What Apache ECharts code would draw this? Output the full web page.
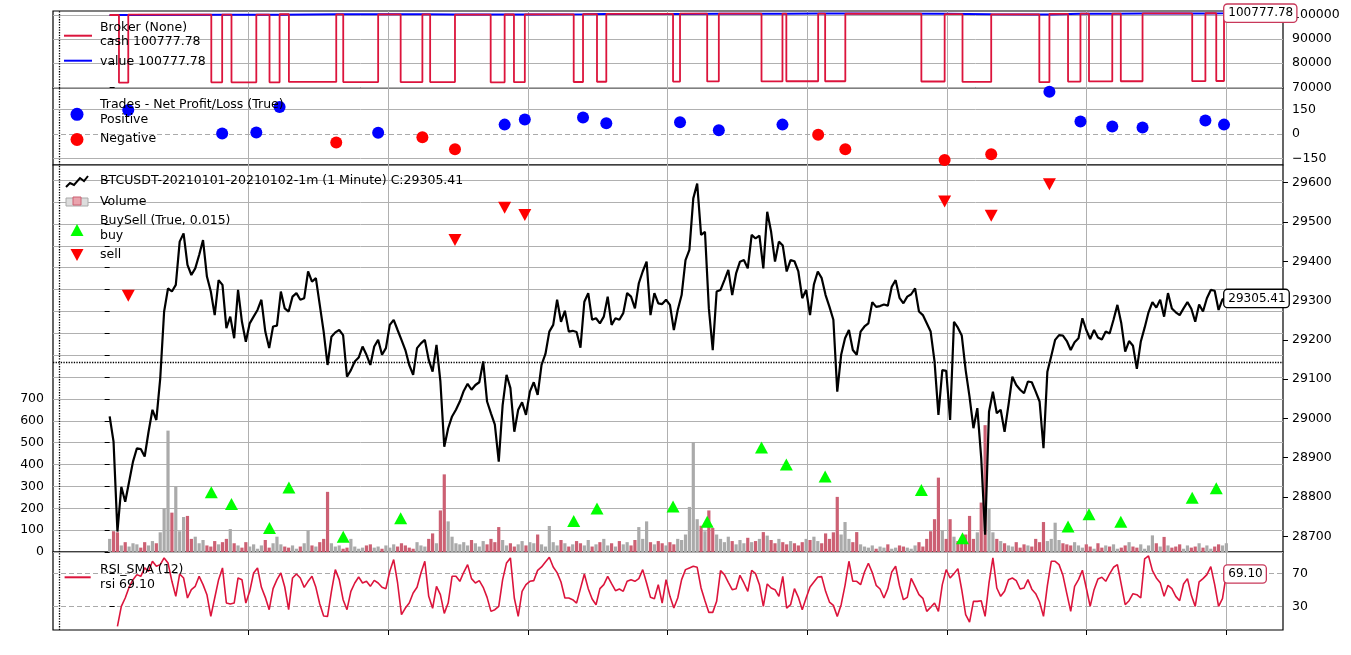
<!DOCTYPE html>
<html>
<head>
<meta charset="utf-8">
<title>BTCUSDT backtest</title>
<script src="https://cdn.jsdelivr.net/npm/echarts@6/dist/echarts.min.js"></script>
<style>
  html, body { margin: 0; padding: 0; background: #fff; }
  #chart { width: 1351px; height: 655px; }
</style>
</head>
<body>
<div id="chart"></div>
<script>
// backtrader style plot: broker / trades / price + volume / rsi

// close, read every ~5 one-minute bars
const close = [
  29005, 28941, 28712, 28826, 28788, 28839, 28890, 28924, 28922, 28903,
  28966, 29022, 28996, 29102, 29272, 29331, 29323, 29340, 29450, 29471,
  29391, 29365, 29382, 29416, 29454, 29361, 29323, 29263, 29352, 29340,
  29230, 29259, 29204, 29327, 29246, 29195, 29242, 29259, 29276, 29302,
  29221, 29179, 29234, 29236, 29323, 29280, 29272, 29310, 29319, 29302,
  29306, 29374, 29348, 29357, 29289, 29221, 29136, 29208, 29219, 29225,
  29212, 29106, 29123, 29145, 29155, 29183, 29162, 29136, 29183, 29200,
  29162, 29179, 29238, 29251, 29225, 29200, 29174, 29136, 29111, 29179,
  29191, 29200, 29149, 29119, 29187, 29094, 28928, 28975, 29005, 29022,
  29043, 29070, 29088, 29073, 29085, 29092, 29145, 29043, 29013, 28984,
  28890, 29034, 29111, 29077, 28966, 29022, 29041, 29009, 29068, 29092,
  29060, 29136, 29164, 29221, 29238, 29302, 29246, 29274, 29221, 29223,
  29220, 29180, 29297, 29319, 29251, 29255, 29242, 29259, 29310, 29238,
  29255, 29251, 29268, 29319, 29310, 29280, 29344, 29374, 29399, 29263,
  29319, 29293, 29291, 29302, 29289, 29225, 29276, 29314, 29403, 29429,
  29560, 29598, 29467, 29475, 29280, 29174, 29323, 29327, 29352, 29378,
  29314, 29369, 29399, 29403, 29382, 29467, 29458, 29465, 29382, 29526,
  29475, 29399, 29450, 29440, 29374, 29403, 29400, 29374, 29306, 29327,
  29263, 29341, 29374, 29357, 29314, 29284, 29251, 29068, 29162, 29204,
  29225, 29174, 29162, 29221, 29234, 29242, 29296, 29284, 29286, 29290,
  29287, 29335, 29352, 29307, 29293, 29310, 29316, 29331, 29272, 29263,
  29242, 29221, 29145, 29009, 29123, 29121, 28996, 29246, 29231, 29211,
  29123, 29055, 28975, 29026, 28899, 28704, 29017, 29068, 29013, 29022,
  28966, 29034, 29106, 29085, 29073, 29064, 29094, 29092, 29068, 29043,
  28924, 29119, 29159, 29200, 29212, 29211, 29197, 29174, 29194, 29204,
  29255, 29225, 29202, 29225, 29206, 29201, 29221, 29216, 29251, 29289,
  29242, 29170, 29197, 29185, 29126, 29195, 29231, 29270, 29296, 29282,
  29302, 29259, 29319, 29280, 29270, 29263, 29280, 29296, 29279, 29246,
  29290, 29272, 29306, 29327, 29325, 29276, 29303, 29305.41
];

const volume = [
  60, 95, 90,
  30, 45, 25, 40, 35, 20, 45, 30, 50, 40,
  90, 200, 555, 180, 300, 95, 160, 165, 60,
  70, 40, 55, 30, 25, 50, 35, 45, 60, 105, 40, 30, 20, 45, 25, 35, 15, 30,
  55, 20, 40, 70, 35, 25, 20, 30, 15, 25, 40, 100, 30, 25, 45, 60, 275, 40,
  25, 30, 15, 20, 60, 25, 15, 20, 30, 35, 20, 25, 15, 30, 20, 35, 25, 40,
  30, 20, 15, 45, 30, 25, 60, 85, 40,
  190, 355, 140, 70, 40,
  35, 45, 30, 55, 40, 25, 50, 35, 60, 45, 114, 55, 30, 40, 25, 35, 50, 30,
  45, 40, 80, 35, 25, 119, 45, 30, 55, 40, 25, 35, 50,
  40, 30, 55, 25, 35, 45, 60, 30, 40, 25, 50, 35, 45, 30, 55, 114, 60, 140,
  45, 35, 50, 40, 30, 45, 35, 60, 55, 80,
  206, 503, 150, 120, 95, 190, 110, 80,
  60, 45, 70, 50, 35, 55, 40, 65, 45, 50, 60, 91, 75, 55, 40, 60, 45, 35,
  50, 40, 30, 45, 60, 55, 70, 50, 40, 85, 60, 90,
  252, 80, 137, 60,
  45, 91, 35, 25, 20, 30, 15, 25, 20, 35, 15, 20, 30, 25, 20, 15, 30, 45,
  25, 60, 95,
  150, 340, 100, 60, 150, 70, 50, 45, 80, 165, 60, 90, 226, 580, 200, 90, 60, 50,
  40, 30, 25, 45, 20, 35, 30, 25, 60, 45, 137, 50, 60, 134, 55, 40, 35, 30, 45,
  30, 20, 35, 25, 15, 40, 20, 30, 25, 35, 15, 20, 30, 45, 25, 20, 35, 15,
  30, 76, 40, 25, 69, 30, 20, 25, 35, 15, 30, 20, 25, 40, 20, 30, 15, 25,
  35, 30, 40
];

const rsi = [
  null, null, 6.4, 30.4, 40.4, 53.2, 62.4, 68.4, 66.4, 76.4,
  72.4, 84.4, 78.4, 80.4, 88.4, 82.4, 60.4, 42.4, 69.2, 64.4,
  40.4, 50.4, 54.4, 66.4, 56.4, 44.4, 18.4, 40.4, 62.4, 76.4,
  34.4, 33.2, 34.4, 64.4, 62.4, 34.4, 48.4, 70.4, 76.4, 53.2,
  41.2, 26.4, 51.6, 62.4, 70.4, 53.6, 26.4, 64.4, 69.2, 64.4,
  53.2, 60.4, 66.4, 53.2, 33.2, 18.8, 18.4, 48.4, 74.4, 62.4,
  38.4, 26.4, 48.4, 58.4, 65.6, 58.4, 60.4, 54.4, 61.6, 58.4,
  53.2, 51.6, 72.4, 86.4, 58.4, 20.4, 28.4, 34.4, 46.4, 53.2,
  70.4, 84.4, 42.4, 28, 54.4, 44.4, 22, 34.4, 66.4, 66.4,
  60.4, 71.2, 80.4, 63.6, 58.4, 61.2, 53.2, 41.2, 24.4, 26.4,
  30.4, 62.4, 82.4, 88.4, 40.4, 18.4, 48.4, 56.4, 60.4, 61.2,
  73.6, 77.6, 83.6, 89.2, 77.6, 70.8, 59.6, 40.4, 40.4, 38.4,
  34.4, 51.6, 69.2, 51.6, 39.2, 32.4, 51.6, 56.4, 66.4, 57.6,
  49.2, 51.2, 48.4, 60.4, 62.4, 60.4, 63.6, 74.4, 58.4, 41.2,
  39.6, 56.4, 34.4, 62.4, 42.4, 28.4, 40.4, 62.4, 74.4, 76.4,
  78.4, 77.2, 52.4, 37.2, 23.2, 23.2, 36.4, 73.2, 68.4, 59.2,
  50.4, 51.6, 67.6, 58.4, 48.4, 73.6, 69.6, 56.4, 30.4, 57.2,
  52.4, 50.4, 42.4, 66.4, 28.4, 32.4, 51.6, 41.2, 26.4, 40.4,
  53.6, 59.6, 65.6, 66, 48.4, 35.6, 31.6, 18.4, 32.4, 55.6,
  84.4, 60.4, 60.4, 56.4, 71.6, 82, 70.8, 55.6, 51.2, 40.4,
  51.6, 71.6, 78.4, 55.2, 38.4, 41.2, 64, 54.4, 44.4, 40,
  24.4, 29.2, 34.4, 24.4, 56.4, 74.4, 64.4, 69.6, 75.6, 50,
  20.4, 11.6, 36.4, 36.4, 37.2, 18.4, 58.4, 88.4, 52.4, 42.4,
  48.4, 62.4, 64.4, 61.2, 51.2, 52.4, 62.4, 51, 45.6, 35.6,
  18.4, 55.2, 84.4, 84.4, 80.4, 67.6, 45.6, 24.4, 54.4, 62.4,
  73.6, 52.4, 30.4, 50.4, 63.2, 65.2, 60.4, 69.2, 77.2, 80.4,
  56.4, 32.4, 37.2, 45.6, 44.4, 40.4, 87.2, 90.8, 73.2, 64.4,
  58.8, 42.4, 55.6, 51.6, 42.4, 37.2, 57.2, 63.6, 43.6, 30.4,
  59.6, 63.6, 68.4, 78, 56.4, 30.4, 39.6, 69.1
];

// trades: bar of the buy, bar of the sell, net profit/loss
const tradeOpen  = [12, 131, 157, 206, 231, 301, 375, 413, 491, 521, 598, 628, 726,
                    770, 840, 872, 922, 1046, 1099, 1198, 1235, 1262, 1303, 1395, 1426];
const tradeClose = [24, 145, 189, 219, 292, 346, 403, 445, 509, 535, 610, 640, 735,
                    785, 867, 913, 948, 1076, 1136, 1211, 1251, 1292, 1331, 1412, 1436];
const tradePnl   = [145, 2, 8, 164, -54, 6, -21, -94, 56, 87, 100, 64, 71,
                    21, 56, -6, -94, -161, -125, 257.78, 75, 44, 39, 81, 56];
// buy / sell markers inside the price panel (null: outside of it)
const buyMark  = [null, 28812, 28782, 28721, 28824, 28699, 28746, null, null, null, 28739, 28771, 28776,
                  28737, 28926, 28883, 28852, 28818, 28695, null, 28725, 28756, 28737, 28798, 28822];
const sellMark = [29312, null, null, null, null, null, null, 29454, 29536, 29518, null, null, null,
                  null, null, null, null, 29552, 29516, 29596, null, null, null, null, null];

const startCash = 100000;
const positionCost = 28100;
const lastBar = 1439;
const refLevel = 29143;
const cursorBar = -65;

const timeTicks = [179, 359, 539, 719, 899, 1079, 1259, 1439];
const brokerTicks = [70000, 80000, 90000, 100000];
const tradeTicks = [-150, 0, 150];
const priceTicks = [28700, 28800, 28900, 29000, 29100, 29200, 29300, 29400, 29500, 29600];
const volumeTicks = [0, 100, 200, 300, 400, 500, 600, 700, 800, 900, 1000, 1100, 1200, 1300, 1400, 1500, 1600, 1700];
const rsiTicks = [30, 70];

const CRIMSON = '#dc143c';
const BLUE = '#0000ff';
const GRID = '#b0b0b0';
const FONT = 'DejaVu Sans';

// ---- build series data
const step = lastBar / (close.length - 1);
const bar = close.map((_, k) => k * step);
const priceData = close.map((v, k) => [bar[k], v]);
const volData = volume.map((v, k) => ({
  value: [bar[k], v],
  itemStyle: { color: k > 0 && close[k] < close[k - 1] ? '#cc6073' : '#aaaaaa' }
}));
const rsiData = [];
rsi.forEach((v, k) => { if (v !== null) rsiData.push([bar[k], v]); });

let cash = startCash;
const cashData = [[0, cash]];
const valueData = [[0, cash]];
tradeOpen.forEach((o, i) => {
  const c = tradeClose[i];
  cashData.push([o, cash], [o, cash - positionCost], [c, cash - positionCost]);
  valueData.push([c, cash]);
  cash += tradePnl[i];
  cashData.push([c, cash]);
  valueData.push([c, cash]);
});
cashData.push([lastBar, cash]);
valueData.push([lastBar, cash]);
const finalCash = cash.toFixed(2);

const posData = [], negData = [];
tradePnl.forEach((p, i) => (p >= 0 ? posData : negData).push([tradeClose[i], p]));
const buyData = [], sellData = [];
buyMark.forEach((v, i) => { if (v !== null) buyData.push([tradeOpen[i], v]); });
sellMark.forEach((v, i) => { if (v !== null) sellData.push([tradeClose[i], v]); });

// ---- axes
const num = v => (v < 0 ? '\u2212' + (-v) : String(v));

function xAx(grid, withTicks) {
  return {
    type: 'value', gridIndex: grid, min: -73, max: 1512,
    axisLine: { show: false },
    axisTick: { show: withTicks, customValues: timeTicks, length: 5, lineStyle: { color: '#000' } },
    axisLabel: { show: false, customValues: timeTicks },
    splitLine: { show: true, lineStyle: { color: GRID, width: 1 } }
  };
}

function yAx(grid, pos, min, max, ticks, split, fmt) {
  return {
    type: 'value', gridIndex: grid, position: pos, min: min, max: max,
    axisLine: { show: false },
    axisTick: { show: true, customValues: ticks, length: 5, lineStyle: { color: '#000' } },
    axisLabel: { customValues: ticks, margin: 9, color: '#000', fontSize: 12.5, fontFamily: FONT,
                 formatter: fmt || num },
    splitLine: split
  };
}

const plainSplit = { show: true, lineStyle: { color: GRID, width: 1 } };
const noSplit = { show: false };

function cursorLine(extra) {
  return {
    silent: true, symbol: 'none', z: 1, animation: false,
    label: { show: false },
    lineStyle: { type: 'dotted', color: '#000', width: 1.3 },
    data: [{ xAxis: cursorBar }].concat(extra || [])
  };
}

function tag(border) {
  return {
    show: true, distance: -2,
    formatter: p => p.value[1].toFixed(2),
    backgroundColor: '#fff', borderColor: border, borderWidth: 1.3, borderRadius: 3,
    padding: [3, 3, 2, 4], color: '#000', fontSize: 12, fontFamily: FONT
  };
}

// ---- legends (matplotlib style, drawn as text)
const LFONT = '12.5px "DejaVu Sans", sans-serif';
const txt = (x, y, s) => ({ type: 'text', x: x, y: y, z: 100,
  style: { text: s, font: LFONT, fill: '#000', verticalAlign: 'middle' } });
const seg = (x1, y1, x2, y2, c) => ({ type: 'line', z: 100, shape: { x1, y1, x2, y2 },
  style: { stroke: c, lineWidth: 2 } });
const dot = (x, y, c) => ({ type: 'circle', z: 100, shape: { cx: x, cy: y, r: 6.5 }, style: { fill: c } });

const graphic = [
  seg(64, 35.7, 92, 35.7, CRIMSON),
  txt(100, 27.5, 'Broker (None)'),
  txt(100, 42, 'cash ' + finalCash),
  seg(64, 60.7, 92, 60.7, BLUE),
  txt(100, 61.5, 'value ' + finalCash),

  txt(100, 104.5, 'Trades - Net Profit/Loss (True)'),
  dot(77, 114.3, BLUE),
  txt(100, 119.5, 'Positive'),
  dot(77, 139.5, '#ff0000'),
  txt(100, 139, 'Negative'),

  { type: 'polyline', z: 100, shape: { points: [[66, 187], [70, 183], [74, 185], [80, 178], [84, 181], [88, 176]] },
    style: { stroke: '#000', lineWidth: 2, fill: null } },
  txt(100, 181, 'BTCUSDT-20210101-20210102-1m (1 Minute) C:' + close[close.length - 1].toFixed(2)),
  { type: 'rect', z: 100, shape: { x: 66, y: 198, width: 22, height: 8 }, style: { fill: '#dddddd', stroke: '#aaaaaa' } },
  { type: 'rect', z: 101, shape: { x: 73, y: 197, width: 8, height: 8 }, style: { fill: '#eaa3ad', stroke: '#cc6073' } },
  txt(100, 201.7, 'Volume'),
  txt(100, 220.7, 'BuySell (True, 0.015)'),
  { type: 'polygon', z: 100, shape: { points: [[70.5, 236], [83.5, 236], [77, 224]] }, style: { fill: '#00ff00' } },
  txt(100, 236, 'buy'),
  { type: 'polygon', z: 100, shape: { points: [[70.5, 249], [83.5, 249], [77, 261]] }, style: { fill: '#ff0000' } },
  txt(100, 255, 'sell'),

  seg(64.6, 577.3, 90.7, 577.3, CRIMSON),
  txt(100, 569.7, 'RSI_SMA (12)'),
  txt(100, 584.7, 'rsi ' + rsi[rsi.length - 1].toFixed(2))
];

const gridStyle = { left: 53, width: 1230, show: true, borderColor: '#000', borderWidth: 1.2, backgroundColor: '#fff' };

const option = {
  animation: false,
  backgroundColor: '#fff',
  textStyle: { fontFamily: FONT },
  grid: [
    Object.assign({ top: 11, height: 77 }, gridStyle),
    Object.assign({ top: 88, height: 77 }, gridStyle),
    Object.assign({ top: 165, height: 387 }, gridStyle),
    Object.assign({ top: 552, height: 78 }, gridStyle)
  ],
  xAxis: [xAx(0, false), xAx(1, false), xAx(2, false), xAx(3, true)],
  yAxis: [
    yAx(0, 'right', 69710, 101660, brokerTicks, plainSplit),
    yAx(1, 'right', -191, 280, tradeTicks, noSplit),
    yAx(2, 'left', 0, 1769.5, volumeTicks, plainSplit, v => (v <= 700 ? String(v) : '')),
    yAx(2, 'right', 28660, 29645, priceTicks, noSplit),
    yAx(3, 'right', 2.1, 95.5, rsiTicks,
        { show: true, lineStyle: { color: '#aaaaaa', width: 1.2, type: [5, 3] } })
  ],
  graphic: graphic,
  series: [
    {
      name: 'value', type: 'line', xAxisIndex: 0, yAxisIndex: 0, data: valueData,
      symbol: 'none', z: 2, lineStyle: { color: BLUE, width: 2 },
      markLine: cursorLine()
    },
    {
      name: 'cash', type: 'line', xAxisIndex: 0, yAxisIndex: 0, data: cashData,
      symbol: 'none', z: 3, lineStyle: { color: CRIMSON, width: 1.8 },
      endLabel: tag('#c8385a')
    },
    {
      name: 'Positive', type: 'scatter', xAxisIndex: 1, yAxisIndex: 1, data: posData,
      symbolSize: 12, itemStyle: { color: BLUE, opacity: 1 }, z: 3,
      markLine: cursorLine([
        { yAxis: 150, lineStyle: { type: 'solid', color: GRID, width: 1 } },
        { yAxis: -150, lineStyle: { type: 'solid', color: GRID, width: 1 } },
        { yAxis: 0, lineStyle: { type: [5, 3], color: '#aaaaaa', width: 1.2 } }
      ])
    },
    {
      name: 'Negative', type: 'scatter', xAxisIndex: 1, yAxisIndex: 1, data: negData,
      symbolSize: 12, itemStyle: { color: '#ff0000', opacity: 1 }, z: 3
    },
    {
      name: 'Volume', type: 'bar', xAxisIndex: 2, yAxisIndex: 2, data: volData,
      barWidth: 3.2, z: 2
    },
    {
      name: 'close', type: 'line', xAxisIndex: 2, yAxisIndex: 3, data: priceData,
      symbol: 'none', z: 3, lineStyle: { color: '#000', width: 2.2 },
      endLabel: tag('#000'),
      markLine: cursorLine([
        { yAxis: refLevel, lineStyle: { type: 'dotted', color: '#000', width: 1.3 } }
      ])
    },
    {
      name: 'buy', type: 'scatter', xAxisIndex: 2, yAxisIndex: 3, data: buyData,
      symbol: 'triangle', symbolSize: [13, 12], itemStyle: { color: '#00ff00', opacity: 1 }, z: 4
    },
    {
      name: 'sell', type: 'scatter', xAxisIndex: 2, yAxisIndex: 3, data: sellData,
      symbol: 'triangle', symbolRotate: 180, symbolSize: [13, 12],
      itemStyle: { color: '#ff0000', opacity: 1 }, z: 4
    },
    {
      name: 'rsi', type: 'line', xAxisIndex: 3, yAxisIndex: 4, data: rsiData,
      symbol: 'none', z: 3, lineStyle: { color: CRIMSON, width: 1.6 },
      endLabel: tag('#c8385a'),
      markLine: cursorLine()
    }
  ]
};

const chart = echarts.init(document.getElementById('chart'));
chart.setOption(option);
</script>
</body>
</html>
